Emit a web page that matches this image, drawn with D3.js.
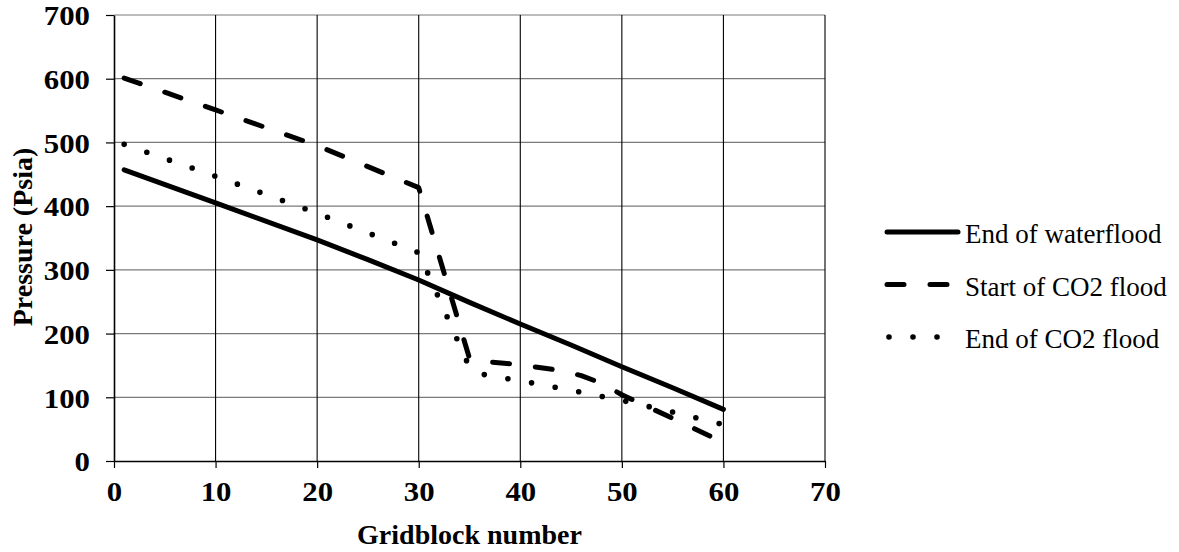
<!DOCTYPE html>
<html>
<head>
<meta charset="utf-8">
<script src="https://cdn.jsdelivr.net/npm/d3@7"></script>
<style>
  html, body { margin: 0; padding: 0; background: #fff; }
  svg { display: block; }
  text { font-family: "Liberation Serif", "Times New Roman", serif; fill: #000; }
</style>
</head>
<body>
<svg id="chart" width="1179" height="552"></svg>
<script>
// Pressure profiles along the gridblocks
const xTicks = [0, 10, 20, 30, 40, 50, 60, 70];
const yTicks = [0, 100, 200, 300, 400, 500, 600, 700];

const waterfloodX = [1, 10, 20, 25, 30, 35, 40, 45, 50, 55, 60];
const waterfloodP = [457, 405, 347, 316, 284, 249, 215, 182, 148, 115, 81];

const co2StartX = [1, 10, 20, 25, 30, 35, 36, 40, 44, 46, 48, 50, 55, 60];
const co2StartP = [601, 551, 495, 462, 429, 161, 157, 151, 142, 134, 122, 104, 67, 29];

const co2EndX = [1, 10, 20, 30, 35, 36, 38, 40, 45, 50, 55, 60];
const co2EndP = [497, 447, 389, 327, 147, 137, 131, 126, 111, 95, 77, 57];

const seriesNames = ["End of waterflood", "Start of CO2 flood", "End of CO2 flood"];

const svg = d3.select("#chart");
const plot = { left: 114, right: 825, top: 15, bottom: 461 };

const x = d3.scaleLinear().domain([0, 70]).range([plot.left, plot.right]);
const y = d3.scaleLinear().domain([0, 700]).range([plot.bottom, plot.top]);

// grid: horizontal lines grey, vertical lines black
svg.append("g")
  .selectAll("line")
  .data(yTicks.filter(d => d > 0))
  .join("line")
  .attr("x1", plot.left).attr("x2", plot.right)
  .attr("y1", d => y(d)).attr("y2", d => y(d))
  .attr("stroke", "#7a7a7a").attr("stroke-width", 1.2);

svg.append("g")
  .selectAll("line")
  .data(xTicks.filter(d => d > 0))
  .join("line")
  .attr("x1", d => x(d)).attr("x2", d => x(d))
  .attr("y1", plot.top).attr("y2", plot.bottom)
  .attr("stroke", "#000").attr("stroke-width", 1.1);

// axes
const xAxis = svg.append("g")
  .attr("transform", `translate(0,${plot.bottom})`)
  .call(d3.axisBottom(x).tickValues(xTicks).tickSize(7).tickSizeOuter(0).tickPadding(14));
const yAxis = svg.append("g")
  .attr("transform", `translate(${plot.left},0)`)
  .call(d3.axisLeft(y).tickValues(yTicks).tickSize(8).tickSizeOuter(0).tickPadding(16));

[xAxis, yAxis].forEach(g => {
  g.select(".domain").attr("stroke", "#000").attr("stroke-width", 1.6);
  g.selectAll(".tick line").attr("stroke", "#000").attr("stroke-width", 1.2);
  g.selectAll(".tick text")
    .attr("font-family", "Liberation Serif, serif")
    .attr("font-weight", "bold")
    .attr("font-size", 27)
    .attr("fill", "#000")
    // wide bold numerals
    .attr("textLength", function () { return this.textContent.length * 15.4; })
    .attr("lengthAdjust", "spacingAndGlyphs");
});
xAxis.selectAll(".tick text").attr("dy", "0.71em");
yAxis.selectAll(".tick text").attr("dy", "0.36em");

// axis titles
svg.append("text")
  .attr("x", (plot.left + plot.right) / 2)
  .attr("y", 544)
  .attr("text-anchor", "middle")
  .attr("font-weight", "bold")
  .attr("font-size", 28)
  .text("Gridblock number");

svg.append("text")
  .attr("transform", "translate(32,237) rotate(-90)")
  .attr("text-anchor", "middle")
  .attr("font-weight", "bold")
  .attr("font-size", 28)
  .text("Pressure (Psia)");

// series lines
const styles = [
  { dash: null, width: 5 },
  { dash: "17 26", width: 5 },
  { dash: "0 24", width: 5.6 }
];
const series = [
  d3.zip(waterfloodX, waterfloodP),
  d3.zip(co2StartX, co2StartP),
  d3.zip(co2EndX, co2EndP)
];

const line = d3.line().x(d => x(d[0])).y(d => y(d[1]));

series.forEach((pts, i) => {
  svg.append("path")
    .datum(pts)
    .attr("d", line)
    .attr("fill", "none")
    .attr("stroke", "#000")
    .attr("stroke-width", styles[i].width)
    .attr("stroke-linecap", "round")
    .attr("stroke-linejoin", "round")
    .attr("stroke-dasharray", styles[i].dash);
});

// legend
const legend = svg.append("g").attr("transform", "translate(887,232)");
seriesNames.forEach((name, i) => {
  const row = legend.append("g").attr("transform", `translate(0,${i * 52.5})`);
  row.append("line")
    .attr("x1", i === 2 ? 2 : 0).attr("x2", i === 2 ? 52 : 71)
    .attr("y1", 0).attr("y2", 0)
    .attr("stroke", "#000")
    .attr("stroke-width", styles[i].width)
    .attr("stroke-linecap", "round")
    .attr("stroke-dasharray", styles[i].dash);
  row.append("text")
    .attr("x", 78)
    .attr("y", 11)
    .attr("font-size", 27)
    .text(name);
});
</script>
</body>
</html>
